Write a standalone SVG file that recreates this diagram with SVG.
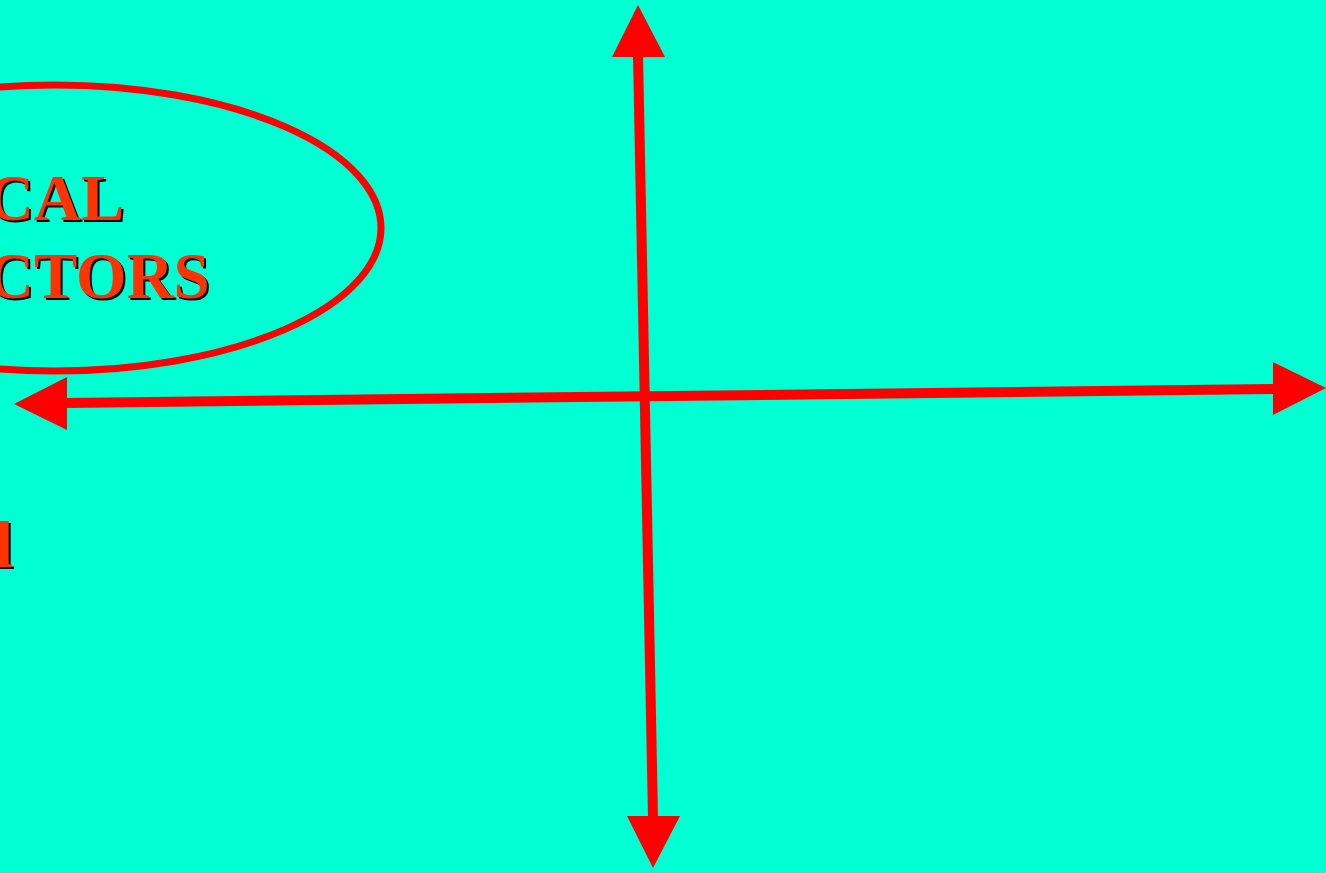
<svg xmlns="http://www.w3.org/2000/svg" width="1326" height="873" viewBox="0 0 1326 873">
<style>
.t{font-family:"Liberation Serif","Times New Roman",serif;font-weight:bold;font-size:65px}
.f{fill:#FF3300}
.s{fill:#000000}
.ax{stroke:#FF0000;stroke-width:10;fill:none}
.hd{fill:#FF0000}
</style>
<rect width="1326" height="873" fill="#00FFD2"/>
<g id="ellipse-node">
<ellipse cx="55" cy="228" rx="326" ry="143" fill="none" stroke="#FF0000" stroke-width="7"/>
<text class="t s" x="-11" y="222">CAL</text>
<text class="t f" x="-13" y="220">CAL</text>
<text class="t s" x="-11" y="300">CTORS</text>
<text class="t f" x="-13" y="298">CTORS</text>
</g>
<g id="lower-label">
<text class="t s" x="-3" y="569">l</text>
<text class="t f" x="-5" y="567">l</text>
</g>
<g id="connectors">
<line class="ax" x1="638" y1="55" x2="653" y2="818"/>
<polygon class="hd" points="638,5 665,57 612,57"/>
<polygon class="hd" points="653,868 627,816 680,816"/>
<line class="ax" x1="65" y1="403" x2="1275" y2="389"/>
<polygon class="hd" points="14,404 67,377 67,430"/>
<polygon class="hd" points="1326,388 1273,362 1273,415"/>
</g>
</svg>
